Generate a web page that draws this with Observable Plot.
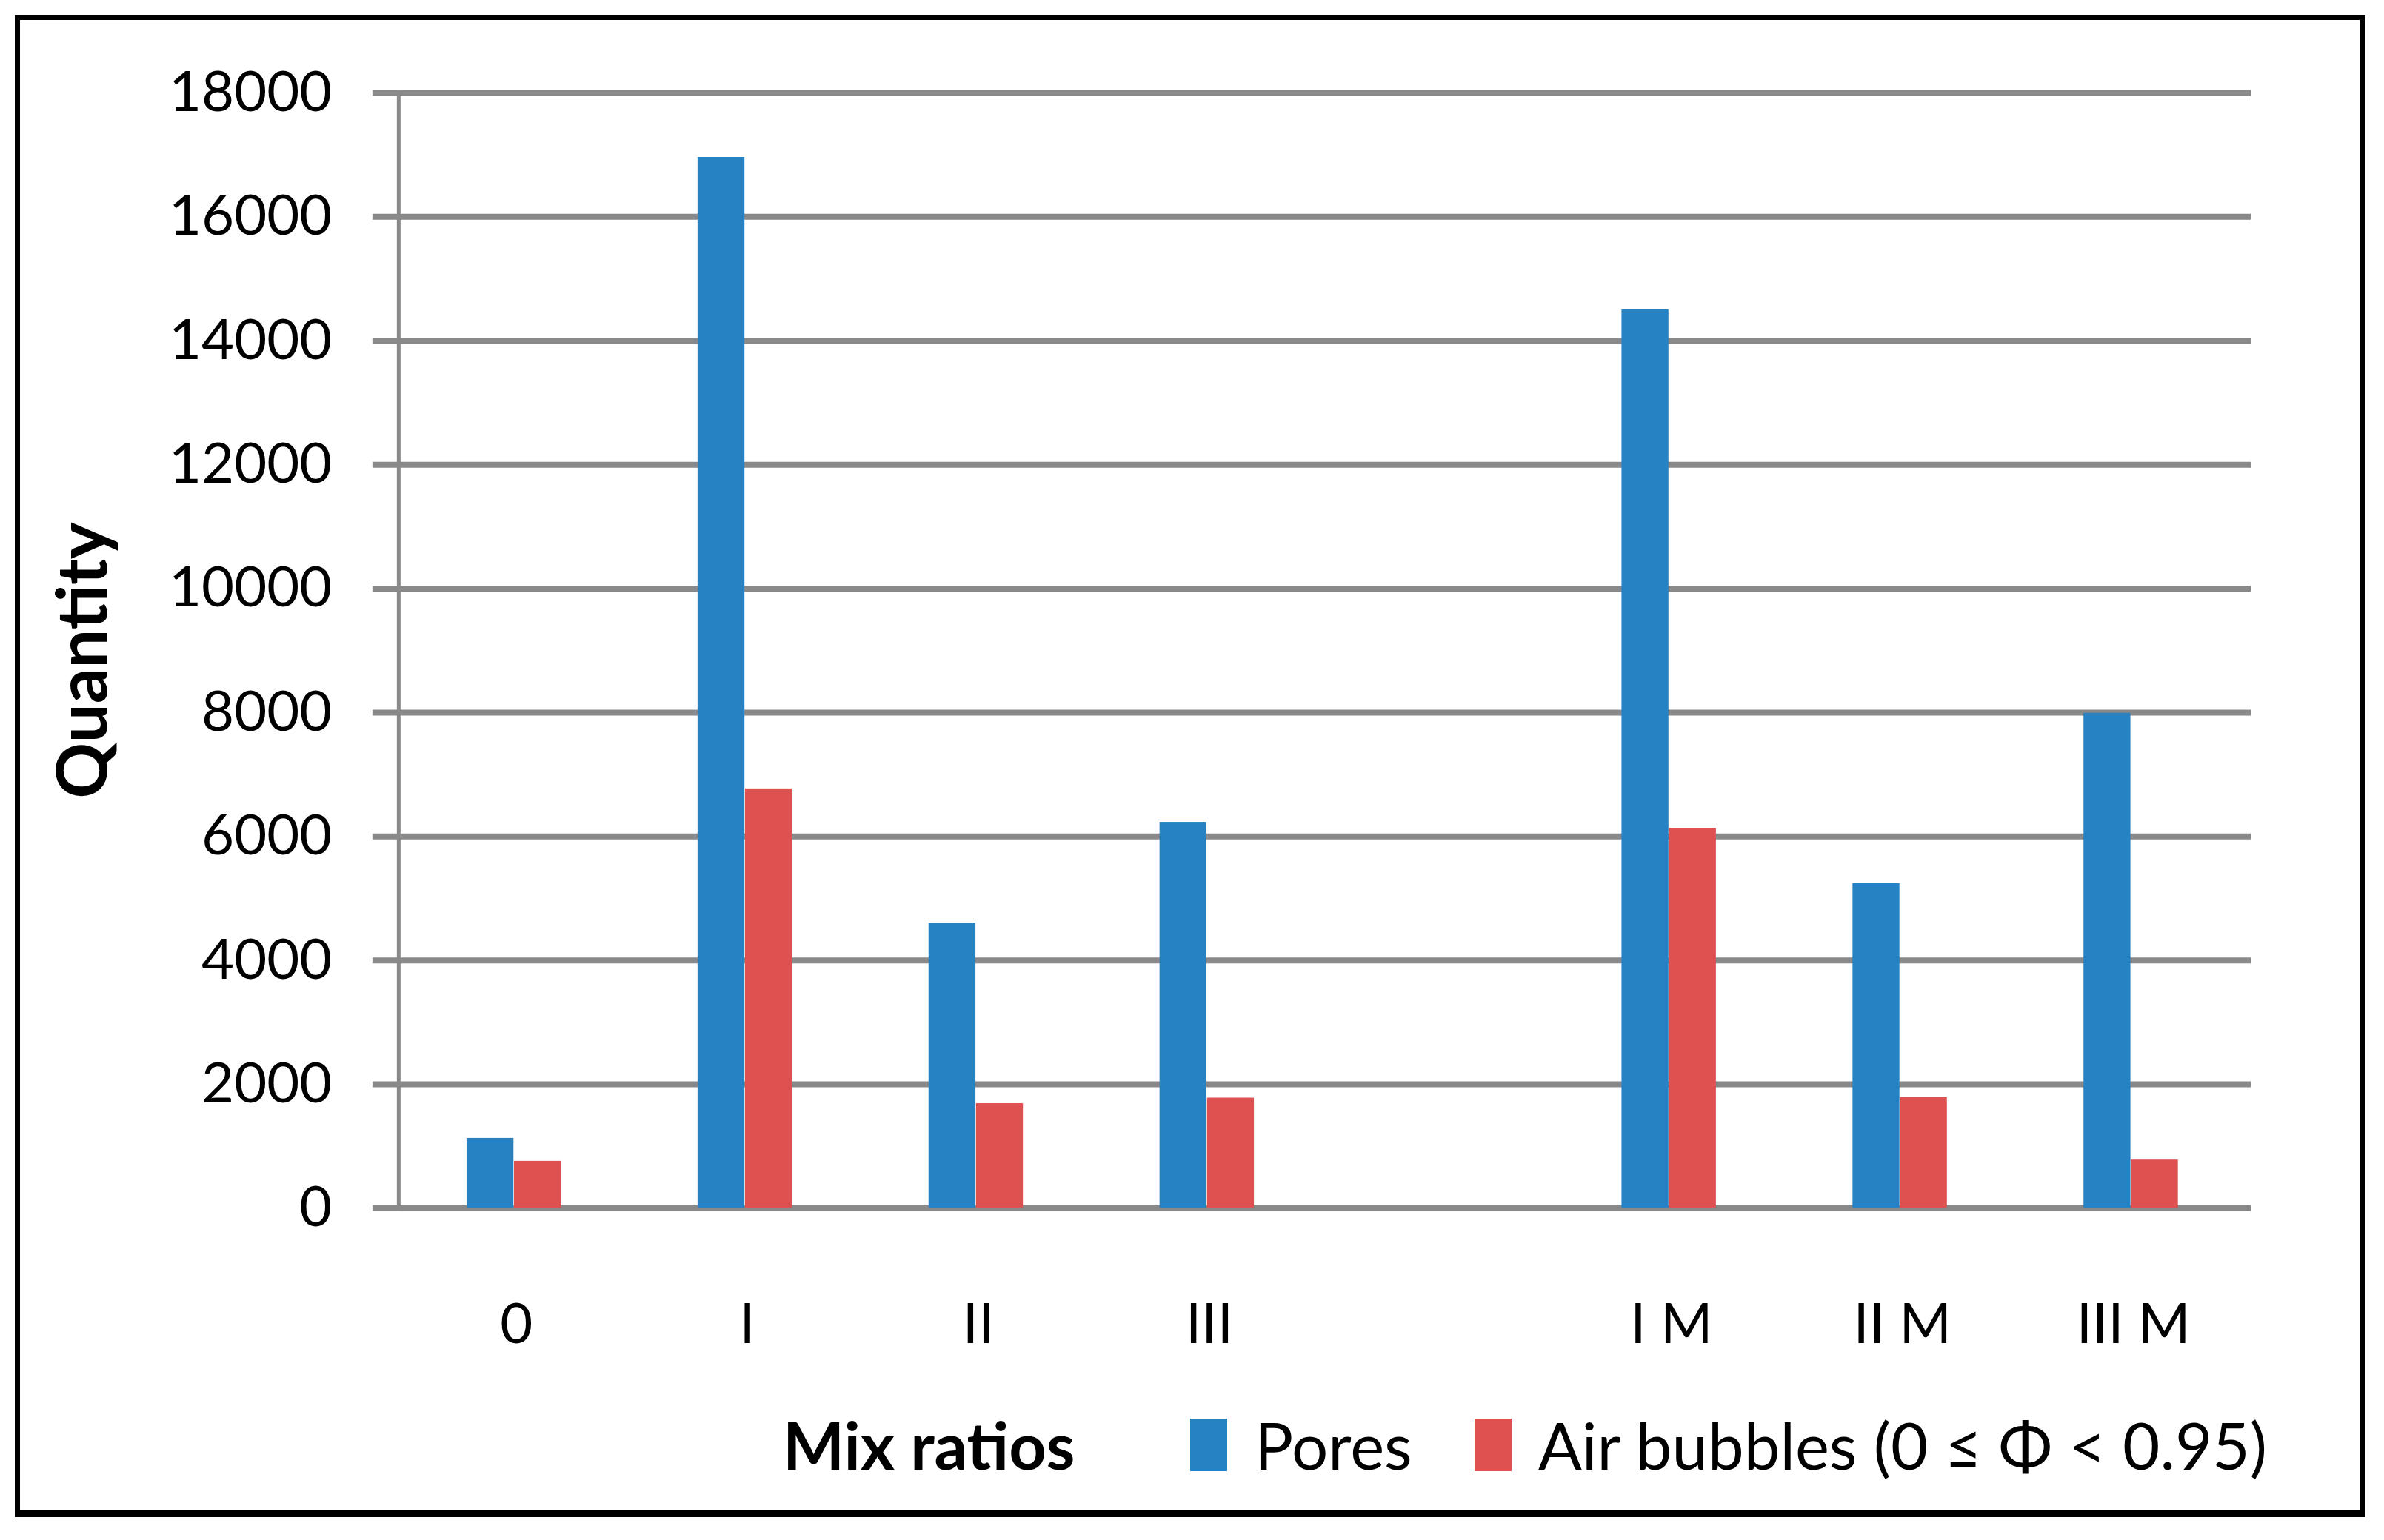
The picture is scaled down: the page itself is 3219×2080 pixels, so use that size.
<!DOCTYPE html>
<html>
<head>
<meta charset="utf-8">
<script src="https://cdn.jsdelivr.net/npm/d3@7"></script>
<script src="https://cdn.jsdelivr.net/npm/@observablehq/plot@0.6"></script>
<style>
  html, body { margin: 0; padding: 0; background: #fff; }
  body { width: 3219px; height: 2080px; position: relative; overflow: hidden;
         font-family: Lato, "Open Sans", sans-serif; }
  #frame { position: absolute; left: 20px; top: 20px; width: 3174px; height: 2029px;
           border: 7px solid #000; border-right-width: 8px; border-bottom-width: 9px;
           box-sizing: border-box; background: #fff; }
  #chart svg { display: block; }
  #legend { position: relative; height: 150px; }
  #legend .it { position: absolute; top: 0; height: 150px; display: flex; align-items: center;
                font-size: 87px; color: #000; white-space: nowrap; }
  #legend .sw { width: 50px; height: 71px; }
</style>
</head>
<body>
<div id="frame">
  <div id="chart"></div>
  <div id="legend"></div>
</div>
<script>
// ---- data ----
const categories = ["0", "I", "II", "III", "", "I M", "II M", "III M"];
const seriesNames = ["Pores", "Air bubbles (0 \u2264 \u03A6 < 0.95)"];
const seriesColors = ["#2682C2", "#DF5150"];
const pores = [1130, 16960, 4600, 6230, null, 14500, 5240, 7990];
const airBubbles = [760, 6770, 1690, 1780, null, 6130, 1790, 780];
const yTicks = [0, 2000, 4000, 6000, 8000, 10000, 12000, 14000, 16000, 18000];
const xTitle = "Mix ratios";
const yTitle = "Quantity";

// ---- layout ----
const W = 3160, H = 1850;
const mL = 511, mR = 147, mT = 98, mB = 245;
const bw = (W - mL - mR) / categories.length;

const rows = categories.map((c, i) => ({cat: c, pores: pores[i], air: airBubbles[i]}))
  .filter(d => d.cat !== "");

const chart = Plot.plot({
  width: W, height: H,
  marginLeft: mL, marginRight: mR, marginTop: mT, marginBottom: mB,
  style: {fontFamily: 'Lato, "Open Sans", sans-serif', fontSize: "76px", color: "#000", background: "#fff"},
  x: {domain: categories, padding: 0},
  y: {domain: [0, 18000]},
  marks: [
    Plot.gridY(yTicks, {stroke: "#898989", strokeOpacity: 1, strokeWidth: 8}),
    Plot.frame({anchor: "left", stroke: "#898989", strokeWidth: 5}),
    Plot.barY(rows, {x: "cat", y: "pores", fill: seriesColors[0], insetLeft: bw * 0.285, insetRight: bw * 0.51}),
    Plot.barY(rows, {x: "cat", y: "air", fill: seriesColors[1], insetLeft: bw * 0.49, insetRight: bw * 0.305}),
    Plot.axisY(yTicks, {tickSize: 35, tickPadding: 55, stroke: "#898989", strokeWidth: 8,
      tickFormat: d => String(d), fontSize: 76, fill: "#000", label: null}),
    Plot.text([yTitle], {frameAnchor: "left", rotate: -90, dx: -425, dy: 200,
      fontWeight: "bold", fontSize: 94, fill: "#000"}),
    Plot.axisX({tickSize: 0, tickPadding: 128, fontSize: 76, fill: "#000", label: null,
      tickFormat: d => d})
  ]
});
document.getElementById("chart").appendChild(chart);

// ---- legend (below the svg) ----
const legend = document.getElementById("legend");
function item(left, html) {
  const d = document.createElement("div");
  d.className = "it";
  d.style.left = left + "px";
  d.innerHTML = html;
  legend.appendChild(d);
  return d;
}
item(1030, `<span style="font-weight:bold;font-size:88px">${xTitle}</span>`);
item(1580, `<span class="sw" style="background:${seriesColors[0]}"></span>`);
item(1667, `<span>${seriesNames[0]}</span>`);
item(1964, `<span class="sw" style="background:${seriesColors[1]}"></span>`);
item(2050, `<span>${seriesNames[1]}</span>`);
</script>
</body>
</html>
